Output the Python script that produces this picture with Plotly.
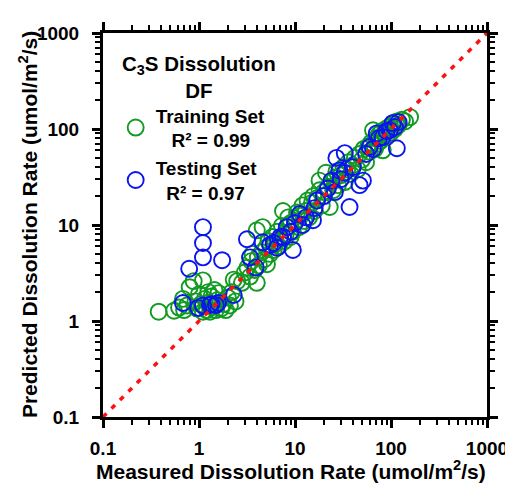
import plotly.graph_objects as go

# Training set (green): measured, predicted
train_measured = [0.38, 0.55, 0.62, 0.68, 0.70, 0.75, 0.80, 0.88, 0.92, 0.95, 1.0, 1.05, 1.1, 1.1, 1.15,
                  1.2, 1.25, 1.25, 1.3, 1.35, 1.4, 1.45, 1.5, 1.55, 1.6, 1.7, 1.8, 1.9, 2.0, 2.1, 2.2, 2.3, 2.4,
                  2.5, 2.8, 3.0, 3.2, 3.4, 3.5, 3.6, 3.8, 4.0, 4.0, 4.1, 4.2, 4.5, 4.6, 4.8, 5.0, 5.1, 5.3,
                  5.5, 5.8, 6.0, 6.2, 6.5, 6.8, 7.0, 7.3, 7.5, 7.8, 8.0, 8.5, 8.5, 9.0, 9.0, 9.5, 10, 10.5,
                  11, 11.5, 12, 12.5, 13, 13.5, 14, 15, 15.5, 16, 17, 18, 18, 19, 20, 21, 22, 23, 24, 25, 26,
                  27, 28, 30, 32, 33, 35, 36, 38, 40, 42, 45, 47, 50, 52, 55, 58, 60, 62, 65, 68, 70, 72, 75,
                  78, 80, 82, 85, 88, 90, 95, 100, 105, 110, 115, 120, 130, 140, 158]
train_predicted = [1.25, 1.28, 1.38, 1.7, 1.30, 1.45, 2.25, 2.6, 1.6, 1.35, 1.9, 1.5, 2.65, 1.25, 1.7,
                   1.3, 1.55, 2.0, 1.25, 1.8, 1.4, 2.1, 1.3, 1.65, 1.95, 1.35, 1.5, 1.3, 1.75, 1.45, 2.0, 2.7, 1.6,
                   2.6, 2.5, 3.2, 3.6, 2.9, 4.2, 5.0, 3.4, 2.5, 8.8, 4.6, 3.8, 5.2, 9.5, 4.4, 5.8, 3.9, 6.8,
                   5.0, 7.5, 5.5, 6.3, 8.5, 6.0, 7.2, 9.8, 14, 6.8, 8.0, 9.5, 12, 7.5, 10.5, 8.5, 11, 13.5,
                   9.5, 12.5, 16, 11, 14, 18, 12, 17, 20, 14, 19, 23, 29, 16, 22, 35, 25, 15.4, 28, 23, 31,
                   36, 26, 33, 40, 28, 38, 45, 34, 42, 50, 38, 55, 48, 62, 45, 66, 58, 72, 97, 62, 80, 70, 88,
                   75, 95, 60, 90, 100, 82, 105, 92, 115, 100, 120, 110, 125, 120, 133]

# Testing set (blue): measured, predicted
test_measured = [0.68, 0.79, 0.98, 1.1, 1.1, 1.1, 1.1, 1.3, 1.35, 1.5, 1.58, 1.74, 2.3, 3.16, 3.4, 3.9,
                 4.6, 5.5, 6.0, 6.5, 7.0, 7.5, 8.2, 9.0, 9.5, 10, 11.2, 12, 13, 15.4, 16, 17, 20, 22, 24,
                 26, 27, 29, 30, 33, 33, 37, 40, 47, 51, 55, 60, 65, 71, 75, 82, 90, 97, 104, 110, 115, 120]
test_predicted = [1.54, 3.5, 1.37, 9.5, 6.5, 4.6, 1.45, 1.47, 1.5, 1.47, 1.54, 4.3, 1.87, 7.1, 4.6, 3.6,
                  6.6, 6.2, 6.5, 5.8, 7.5, 7.5, 9.5, 8.5, 5.5, 10.5, 13, 10, 12, 11.2, 15, 18, 20, 24, 29,
                  22, 50, 37, 30, 35, 56, 15.4, 40, 26, 29, 55, 65, 62, 90, 80, 82, 95, 97, 115, 105, 63, 118]

# 1:1 reference line
ref_line = [0.1, 1000]

major_vals = [0.1, 1, 10, 100, 1000]
major_text = ["0.1", "1", "10", "100", "1000"]
minor_vals = [m * d for d in [0.1, 1, 10, 100] for m in range(2, 10)]

x_title = "Measured Dissolution Rate (umol/m<sup>2</sup>/s)"
y_title = "Predicted Dissolution Rate (umol/m<sup>2</sup>/s)"

FONT = "Arial, Liberation Sans, sans-serif"
GREEN = "#129a22"
BLUE = "#0a14f0"

fig = go.Figure()
fig.add_trace(go.Scatter(
    x=train_measured, y=train_predicted, mode="markers",
    name="Training Set<br>   R² = 0.99",
    marker=dict(symbol="circle-open", size=16, color=GREEN, line=dict(width=1.9, color=GREEN)),
))
fig.add_trace(go.Scatter(
    x=test_measured, y=test_predicted, mode="markers",
    name="Testing Set<br>  R² = 0.97",
    marker=dict(symbol="circle-open", size=16, color=BLUE, line=dict(width=1.9, color=BLUE)),
))
fig.add_trace(go.Scatter(
    x=ref_line, y=ref_line, mode="lines", showlegend=False,
    line=dict(color="#ff1010", width=3.5, dash="5px,7px"),
))

def axis(label_standoff):
    return dict(
        type="log", range=[-1, 3], automargin=False,
        showline=True, linewidth=3, linecolor="black", mirror="allticks",
        ticks="outside", ticklen=8, tickwidth=2.5, tickcolor="black",
        tickmode="array", tickvals=major_vals, ticktext=major_text,
        minor=dict(tickmode="array", tickvals=minor_vals, ticks="outside", ticklen=5,
                   tickwidth=2, tickcolor="black"),
        showgrid=False, zeroline=False,
        ticklabelstandoff=label_standoff, ticklabeloverflow="allow",
        tickfont=dict(family=FONT, size=19, color="black", weight="bold"),
    )

title_font = dict(family=FONT, size=21, color="black", weight="bold")

# page body has an 8px default margin, so the figure is sized/offset to compensate
fig.update_layout(
    width=505, height=475,
    margin=dict(l=95, r=26, t=25, b=66),
    paper_bgcolor="white", plot_bgcolor="white",
    xaxis=axis(4),
    yaxis=axis(9),
    legend=dict(
        x=0.033, y=0.835, xanchor="left", yanchor="top",
        bgcolor="rgba(0,0,0,0)",
        font=dict(family=FONT, size=19, color="black", weight="bold"),
        itemsizing="trace",
    ),
    showlegend=True,
    annotations=[
        dict(text="C<sub>3</sub>S Dissolution<br>DF", xref="paper", yref="paper",
             x=0.249, y=0.956, xanchor="center", yanchor="top", align="center", showarrow=False,
             font=dict(family=FONT, size=20.5, color="black", weight="bold")),
        dict(text=x_title, xref="paper", yref="paper", x=0.49, y=-0.138,
             xanchor="center", yanchor="middle", showarrow=False, font=title_font),
        dict(text=y_title, xref="paper", yref="paper", x=-0.195, y=0.5, textangle=-90,
             xanchor="center", yanchor="middle", showarrow=False, font=title_font),
    ],
)

fig.write_html("out.html")
